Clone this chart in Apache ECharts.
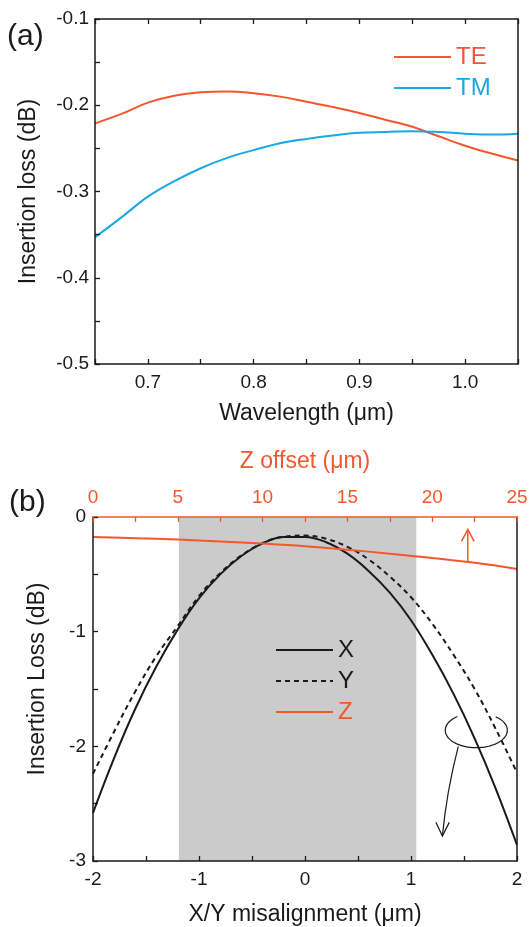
<!DOCTYPE html>
<html>
<head>
<meta charset="utf-8">
<script src="https://cdn.jsdelivr.net/npm/echarts@6/dist/echarts.min.js"></script>
<style>
html,body{margin:0;padding:0;background:#fff;}
#chart{width:532px;height:927px;}
</style>
</head>
<body>
<div id="chart"></div>
<script>
// ---- Panel (a) data ----
const wavelength = [0.650, 0.675, 0.700, 0.725, 0.750, 0.775, 0.800, 0.825, 0.850, 0.875, 0.900, 0.925, 0.950, 0.975, 1.000, 1.025, 1.050];
const teLoss = [-0.221, -0.210, -0.197, -0.189, -0.185, -0.184, -0.186, -0.190, -0.196, -0.202, -0.209, -0.217, -0.225, -0.236, -0.247, -0.256, -0.264];
const tmLoss = [-0.353, -0.330, -0.306, -0.288, -0.273, -0.261, -0.252, -0.244, -0.239, -0.235, -0.232, -0.231, -0.230, -0.231, -0.233, -0.234, -0.233];

// ---- Panel (b) data ----
const misalign = [-2.0, -1.8, -1.6, -1.4, -1.2, -1.0, -0.8, -0.6, -0.4, -0.2, 0.0, 0.2, 0.4, 0.6, 0.8, 1.0, 1.2, 1.4, 1.6, 1.8, 2.0];
const xLoss = [-2.58, -2.10, -1.67, -1.30, -0.98, -0.71, -0.50, -0.34, -0.23, -0.175, -0.175, -0.22, -0.32, -0.47, -0.66, -0.90, -1.20, -1.54, -1.93, -2.37, -2.86];
const yLoss = [-2.24, -1.87, -1.52, -1.21, -0.95, -0.69, -0.49, -0.335, -0.228, -0.172, -0.162, -0.19, -0.26, -0.37, -0.52, -0.70, -0.93, -1.20, -1.50, -1.85, -2.23];
const zOffset = [0, 2.5, 5, 7.5, 10, 12.5, 15, 17.5, 20, 22.5, 25];
const zLoss = [-0.174, -0.185, -0.197, -0.213, -0.232, -0.255, -0.285, -0.320, -0.357, -0.400, -0.453];
const shadeRange = [-1.19, 1.05];

// annotation geometry (data units)
const zArrow = {x: 22.1, from: -0.395, to: -0.108, headHalf: 0.37, headY: -0.2125};
const ellipseCenter = [1.616, -1.86];
const ellipseRadii = [0.2925, 0.152];
const ellipseGap = [52.4, 127.6]; // degrees, open at the top
const bendArrow = {start: [1.446, -2.0], ctrl: [1.335, -2.40], end: [1.296, -2.783], headL: [1.235, -2.663], headR: [1.361, -2.663]};

const RED = '#f4572b';
const BLUE = '#19a8e6';
const INK = '#1a1a1a';
const FONT = 'Liberation Sans, Arial, sans-serif';

const zip = (a, b) => a.map((v, i) => [v, b[i]]);
const near = (v, step) => Math.abs(v / step - Math.round(v / step)) < 1e-6;

const baseAxis = (color) => ({
  z: 10,
  axisLine: {show: true, onZero: false, lineStyle: {color: color, width: 1.5}},
  axisTick: {show: true, inside: true, length: 5, lineStyle: {color: color, width: 1.3}},
  splitLine: {show: false},
  axisLabel: {show: true, color: color, fontSize: 19, fontFamily: FONT, showMinLabel: true, showMaxLabel: true},
  nameTextStyle: {color: color, fontSize: 23, fontFamily: FONT},
  nameLocation: 'middle'
});

function merge(a, b) {
  const o = JSON.parse(JSON.stringify(a));
  for (const k in b) {
    if (b[k] && typeof b[k] === 'object' && !Array.isArray(b[k]) && typeof b[k] !== 'function' && o[k] && typeof o[k] === 'object') {
      o[k] = Object.assign({}, o[k], b[k]);
    } else o[k] = b[k];
  }
  return o;
}

const chart = echarts.init(document.getElementById('chart'), null, {renderer: 'canvas'});

const option = {
  animation: false,
  backgroundColor: '#fff',
  textStyle: {fontFamily: FONT},
  grid: [
    {left: 95, top: 19, width: 423, height: 345},
    {left: 93, top: 517, width: 424, height: 345}
  ],
  graphic: [
    {type: 'text', left: 7, top: 22, style: {text: '(a)', font: '30px ' + FONT, fill: INK}},
    {type: 'text', left: 9, top: 488, style: {text: '(b)', font: '30px ' + FONT, fill: INK}}
  ],
  legend: [
    {
      orient: 'vertical', left: 393, top: 45, padding: 0, itemWidth: 57, itemHeight: 12, itemGap: 7,
      itemStyle: {opacity: 0},
      textStyle: {fontSize: 24, fontFamily: FONT},
      data: [{name: 'TE', textStyle: {color: RED}}, {name: 'TM', textStyle: {color: BLUE}}]
    },
    {
      orient: 'vertical', left: 275, top: 638, padding: 0, itemWidth: 57, itemHeight: 12, itemGap: 7,
      itemStyle: {opacity: 0},
      textStyle: {fontSize: 24, fontFamily: FONT},
      data: [{name: 'X', textStyle: {color: INK}}, {name: 'Y', textStyle: {color: INK}}, {name: 'Z', textStyle: {color: RED}}]
    }
  ],
  xAxis: [
    merge(baseAxis(INK), {
      gridIndex: 0, type: 'value', position: 'bottom', min: 0.65, max: 1.05, interval: 0.05,
      name: 'Wavelength (\u03bcm)', nameGap: 38,
      axisLabel: {color: INK, fontSize: 19, fontFamily: FONT, margin: 9, showMinLabel: true, showMaxLabel: true,
        formatter: v => near(v, 0.1) ? v.toFixed(1) : ''}
    }),
    merge(baseAxis(INK), {
      gridIndex: 0, type: 'value', position: 'top', min: 0.65, max: 1.05, interval: 0.05,
      axisLabel: {show: false}
    }),
    merge(baseAxis(INK), {
      gridIndex: 1, type: 'value', position: 'bottom', min: -2, max: 2, interval: 0.5,
      name: 'X/Y misalignment (\u03bcm)', nameGap: 42,
      axisLabel: {color: INK, fontSize: 19, fontFamily: FONT, margin: 9, showMinLabel: true, showMaxLabel: true,
        formatter: v => near(v, 1) ? String(Math.round(v)) : ''}
    }),
    merge(baseAxis(RED), {
      gridIndex: 1, type: 'value', position: 'top', min: 0, max: 25, interval: 2.5,
      name: 'Z offset (\u03bcm)', nameGap: 44,
      axisLabel: {color: RED, fontSize: 19, fontFamily: FONT, margin: 10, showMinLabel: true, showMaxLabel: true,
        formatter: v => near(v, 5) ? String(Math.round(v)) : ''}
    })
  ],
  yAxis: [
    merge(baseAxis(INK), {
      gridIndex: 0, type: 'value', position: 'left', min: -0.5, max: -0.1, interval: 0.05,
      name: 'Insertion loss (dB)', nameGap: 55,
      axisLabel: {color: INK, fontSize: 19, fontFamily: FONT, margin: 6, showMinLabel: true, showMaxLabel: true,
        formatter: v => near(v, 0.1) ? v.toFixed(1) : ''}
    }),
    merge(baseAxis(INK), {
      gridIndex: 0, type: 'value', position: 'right', min: -0.5, max: -0.1,
      axisTick: {show: false}, axisLabel: {show: false}
    }),
    merge(baseAxis(INK), {
      gridIndex: 1, type: 'value', position: 'left', min: -3, max: 0, interval: 0.5,
      name: 'Insertion Loss (dB)', nameGap: 44,
      nameTextStyle: {color: INK, fontSize: 23, fontFamily: FONT, padding: [0, 0, 0, 20]},
      axisLabel: {color: INK, fontSize: 19, fontFamily: FONT, margin: 7, showMinLabel: true, showMaxLabel: true,
        formatter: v => near(v, 1) ? String(Math.round(v)) : ''}
    }),
    merge(baseAxis(INK), {
      gridIndex: 1, type: 'value', position: 'right', min: -3, max: 0,
      axisTick: {show: false}, axisLabel: {show: false}
    })
  ],
  series: [
    {
      name: 'TE', type: 'line', xAxisIndex: 0, yAxisIndex: 0, data: zip(wavelength, teLoss),
      smooth: 0.4, showSymbol: false, symbol: 'none', lineStyle: {color: RED, width: 2}, itemStyle: {color: RED}
    },
    {
      name: 'TM', type: 'line', xAxisIndex: 0, yAxisIndex: 0, data: zip(wavelength, tmLoss),
      smooth: 0.4, showSymbol: false, symbol: 'none', lineStyle: {color: BLUE, width: 2}, itemStyle: {color: BLUE}
    },
    {
      name: 'shade', type: 'line', xAxisIndex: 2, yAxisIndex: 2, data: [], z: 0,
      markArea: {silent: true, itemStyle: {color: '#cbcbcb', opacity: 1},
        data: [[{xAxis: shadeRange[0]}, {xAxis: shadeRange[1]}]]}
    },
    {
      name: 'X', type: 'line', xAxisIndex: 2, yAxisIndex: 2, data: zip(misalign, xLoss),
      smooth: 0.4, showSymbol: false, symbol: 'none', lineStyle: {color: INK, width: 2}, itemStyle: {color: INK}
    },
    {
      name: 'Y', type: 'line', xAxisIndex: 2, yAxisIndex: 2, data: zip(misalign, yLoss),
      smooth: 0.4, showSymbol: false, symbol: 'none', lineStyle: {color: INK, width: 2, type: [5, 4]}, itemStyle: {color: INK}
    },
    {
      name: 'Z', type: 'line', xAxisIndex: 3, yAxisIndex: 2, data: zip(zOffset, zLoss),
      smooth: 0.4, showSymbol: false, symbol: 'none', lineStyle: {color: RED, width: 2}, itemStyle: {color: RED}
    },
    {
      name: 'zArrow', type: 'custom', xAxisIndex: 3, yAxisIndex: 2, data: [[zArrow.x, zArrow.to]], clip: false, silent: true,
      renderItem: (params, api) => {
        const a = api.coord([zArrow.x, zArrow.from]);
        const b = api.coord([zArrow.x, zArrow.to]);
        const l = api.coord([zArrow.x - zArrow.headHalf, zArrow.headY]);
        const r = api.coord([zArrow.x + zArrow.headHalf, zArrow.headY]);
        const st = {stroke: RED, lineWidth: 1.5, fill: null};
        return {type: 'group', children: [
          {type: 'line', shape: {x1: a[0], y1: a[1], x2: b[0], y2: b[1]}, style: st},
          {type: 'polyline', shape: {points: [l, b, r]}, style: st}
        ]};
      }
    },
    {
      name: 'ellipse', type: 'custom', xAxisIndex: 2, yAxisIndex: 2, data: [ellipseCenter], clip: false, silent: true,
      renderItem: (params, api) => {
        const c = api.coord(ellipseCenter);
        const s = api.size(ellipseRadii);
        const pts = [];
        for (let t = ellipseGap[1]; t <= ellipseGap[0] + 360 + 0.01; t += 4) {
          const rad = t * Math.PI / 180;
          pts.push([c[0] + s[0] * Math.cos(rad), c[1] - s[1] * Math.sin(rad)]);
        }
        const p0 = api.coord(bendArrow.start), cp = api.coord(bendArrow.ctrl), p1 = api.coord(bendArrow.end);
        const hl = api.coord(bendArrow.headL), hr = api.coord(bendArrow.headR);
        const st = {stroke: INK, lineWidth: 1.2, fill: null};
        return {type: 'group', children: [
          {type: 'polyline', shape: {points: pts, smooth: 0.3}, style: st},
          {type: 'bezierCurve', shape: {x1: p0[0], y1: p0[1], x2: p1[0], y2: p1[1], cpx1: cp[0], cpy1: cp[1]}, style: st},
          {type: 'polyline', shape: {points: [hl, p1, hr]}, style: st}
        ]};
      }
    }
  ]
};

chart.setOption(option);
</script>
</body>
</html>
